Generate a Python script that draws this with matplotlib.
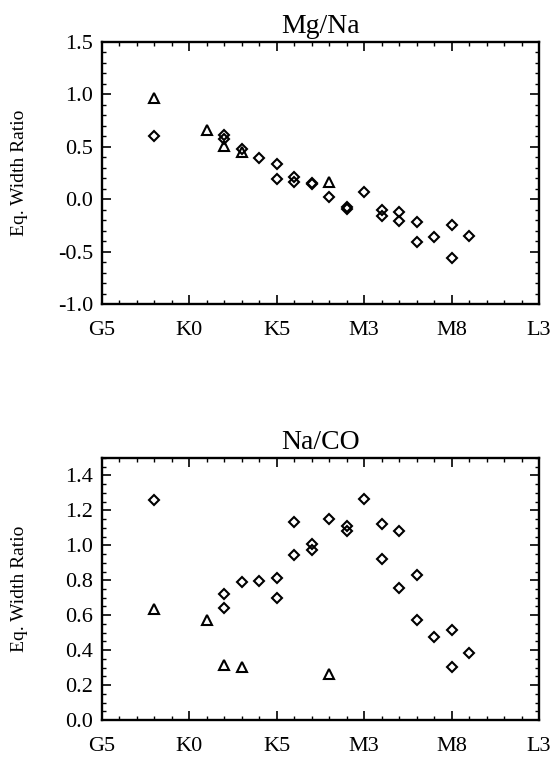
import matplotlib
matplotlib.use("Agg")
import matplotlib.pyplot as plt
from matplotlib.ticker import MultipleLocator, FixedLocator, FormatStrFormatter

# Spectral type axis (subtypes counted from G5)
type_ticks = [0, 5, 10, 15, 20, 25]
type_labels = ["G5", "K0", "K5", "M3", "M8", "L3"]

# Mg/Na panel
mgna_dia_x = [3, 7, 7, 8, 9, 10, 10, 11, 11, 12, 12, 13, 14, 14, 15, 16, 16, 17, 17, 18, 18, 19, 20, 20, 21]
mgna_dia_y = [0.60, 0.61, 0.57, 0.48, 0.39, 0.34, 0.195, 0.215, 0.165, 0.155, 0.145, 0.02, -0.07, -0.09,
              0.07, -0.10, -0.165, -0.12, -0.205, -0.22, -0.405, -0.36, -0.245, -0.56, -0.355]
mgna_tri_x = [3, 6, 7, 8, 13]
mgna_tri_y = [0.965, 0.665, 0.51, 0.455, 0.16]

# Na/CO panel
naco_dia_x = [3, 7, 7, 8, 9, 10, 10, 11, 11, 12, 12, 13, 14, 14, 15, 16, 16, 17, 17, 18, 18, 19, 20, 20, 21]
naco_dia_y = [1.257, 0.72, 0.644, 0.79, 0.798, 0.813, 0.697, 1.131, 0.947, 1.008, 0.971, 1.149, 1.109, 1.08,
              1.267, 1.12, 0.924, 1.084, 0.758, 0.829, 0.573, 0.478, 0.514, 0.303, 0.385]
naco_tri_x = [3, 6, 7, 8, 13]
naco_tri_y = [0.635, 0.57, 0.315, 0.305, 0.262]

plt.rcParams['font.family'] = ['Liberation Serif', 'DejaVu Serif']

fig = plt.figure(figsize=(5.58, 7.62), dpi=100)
ax1 = fig.add_axes([102/558, 1-304/762, 437/558, 262/762])
ax2 = fig.add_axes([102/558, 1-720/762, 437/558, 262/762])

panels = [
    (ax1, "Mg/Na", mgna_dia_x, mgna_dia_y, mgna_tri_x, mgna_tri_y, (-1.0, 1.5), 0.5, 0.1),
    (ax2, "Na/CO", naco_dia_x, naco_dia_y, naco_tri_x, naco_tri_y, (0.0, 1.5), 0.2, 0.05),
]

for ax, title, dx, dy, tx, ty, ylim, maj, mnr in panels:
    ax.plot(dx, dy, linestyle='none', marker='D', ms=4.6, mfc='none', mec='black', mew=1.5)
    ax.plot(tx, ty, linestyle='none', marker='^', ms=7, mfc='none', mec='black', mew=1.5)
    ax.set_xlim(0, 25)
    ax.set_ylim(*ylim)
    ax.xaxis.set_major_locator(FixedLocator(type_ticks))
    ax.set_xticklabels(type_labels)
    ax.xaxis.set_minor_locator(MultipleLocator(1))
    ax.yaxis.set_major_locator(MultipleLocator(maj))
    ax.yaxis.set_minor_locator(MultipleLocator(mnr))
    ax.yaxis.set_major_formatter(FormatStrFormatter("%.1f"))
    ax.tick_params(which='both', direction='in', top=True, right=True, colors='black')
    ax.tick_params(which='major', length=6.5, width=1.2, labelsize=16)
    ax.tick_params(which='minor', length=3.2, width=1.0)
    ax.tick_params(axis='y', which='major', pad=6.5)
    ax.tick_params(axis='x', which='major', pad=12)
    for s in ax.spines.values():
        s.set_linewidth(1.7)
    ax.set_title(title, fontsize=20, pad=6.5)
    ax.set_ylabel("Eq. Width Ratio", fontsize=14)
    ax.yaxis.set_label_coords(-0.17, 0.5)

fig.savefig("out.png", dpi=100)
